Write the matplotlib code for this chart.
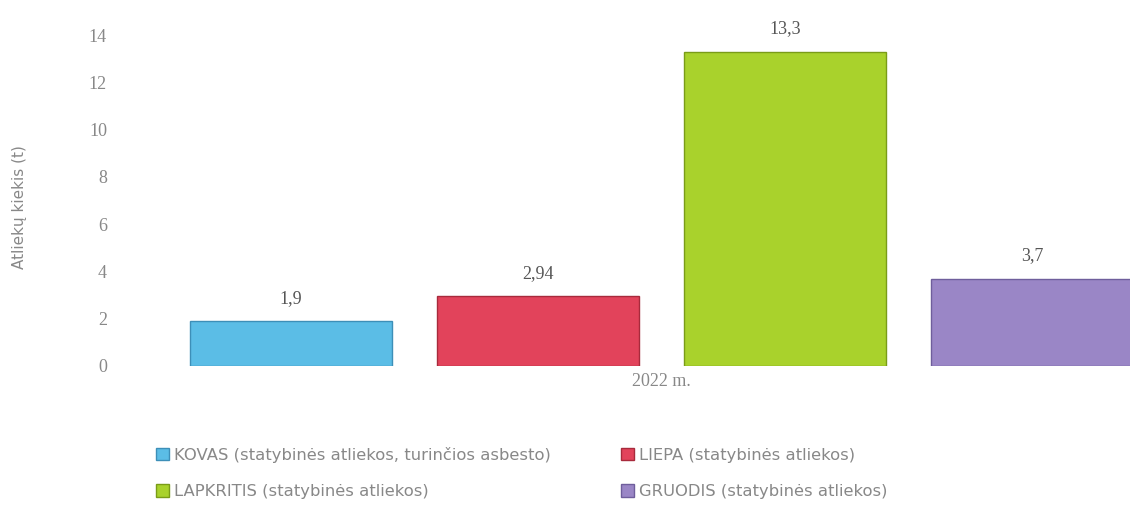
import matplotlib
matplotlib.use('Agg')

import numpy as np
import matplotlib.pyplot as plt

# Duomenys
serijos = ["KOVAS (statybinės atliekos, turinčios asbesto)",
           "LIEPA (statybinės atliekos)",
           "LAPKRITIS (statybinės atliekos)",
           "GRUODIS (statybinės atliekos)"]
reiksmes = [1.9, 2.94, 13.3, 3.7]
etiketes = ["1,9", "2,94", "13,3", "3,7"]
spalvos = ["#5bbde6", "#e2435b", "#a9d22c", "#9a86c6"]
kraštai = ["#3d8fb8", "#a82a3c", "#7a9c18", "#6f5e9c"]
kategorija = "2022 m."

plt.rcParams['font.family'] = ['Liberation Serif', 'DejaVu Serif']

fig = plt.figure(figsize=(11.3, 5.08), dpi=100)
ax = fig.add_axes([150/1130, 1 - 366/508, 980/1130, 331/508])

x = np.arange(len(reiksmes))
bars = ax.bar(x, reiksmes, width=0.82, color=spalvos, edgecolor=kraštai,
              linewidth=1.0)

for xi, v, t in zip(x, reiksmes, etiketes):
    ax.text(xi, v + 0.6, t, ha='center', va='bottom', fontsize=13,
            color='#555555', clip_on=False)

ax.set_xlim(-0.571, 3.397)
ax.set_ylim(0, 14)
ax.set_yticks(range(0, 15, 2))
ax.set_xticks([1.5])
ax.set_xticklabels([kategorija])
ax.tick_params(axis='both', length=0, colors='#888888', labelsize=13)
ax.tick_params(axis='y', pad=31)
ax.tick_params(axis='x', pad=5)
for s in ax.spines.values():
    s.set_visible(False)
ax.set_ylabel("Atliekų kiekis (t)", color='#888888', fontsize=11,
              family=['DejaVu Sans'])
ax.yaxis.set_label_coords(-0.125, 0.48)

# eilutėmis: KOVAS, LIEPA / LAPKRITIS, GRUODIS
tvarka = [0, 2, 1, 3]
fig.legend([bars[i] for i in tvarka], [serijos[i] for i in tvarka],
           ncol=2, loc='upper left', bbox_to_anchor=(141/1130, 1 - 432/508),
           frameon=False, prop={'family': 'DejaVu Sans', 'size': 11.8},
           labelcolor='#888888',
           handlelength=0.8, handleheight=0.8, handletextpad=0.3,
           columnspacing=4.3, labelspacing=1.3)

plt.savefig("out.png", dpi=100)
